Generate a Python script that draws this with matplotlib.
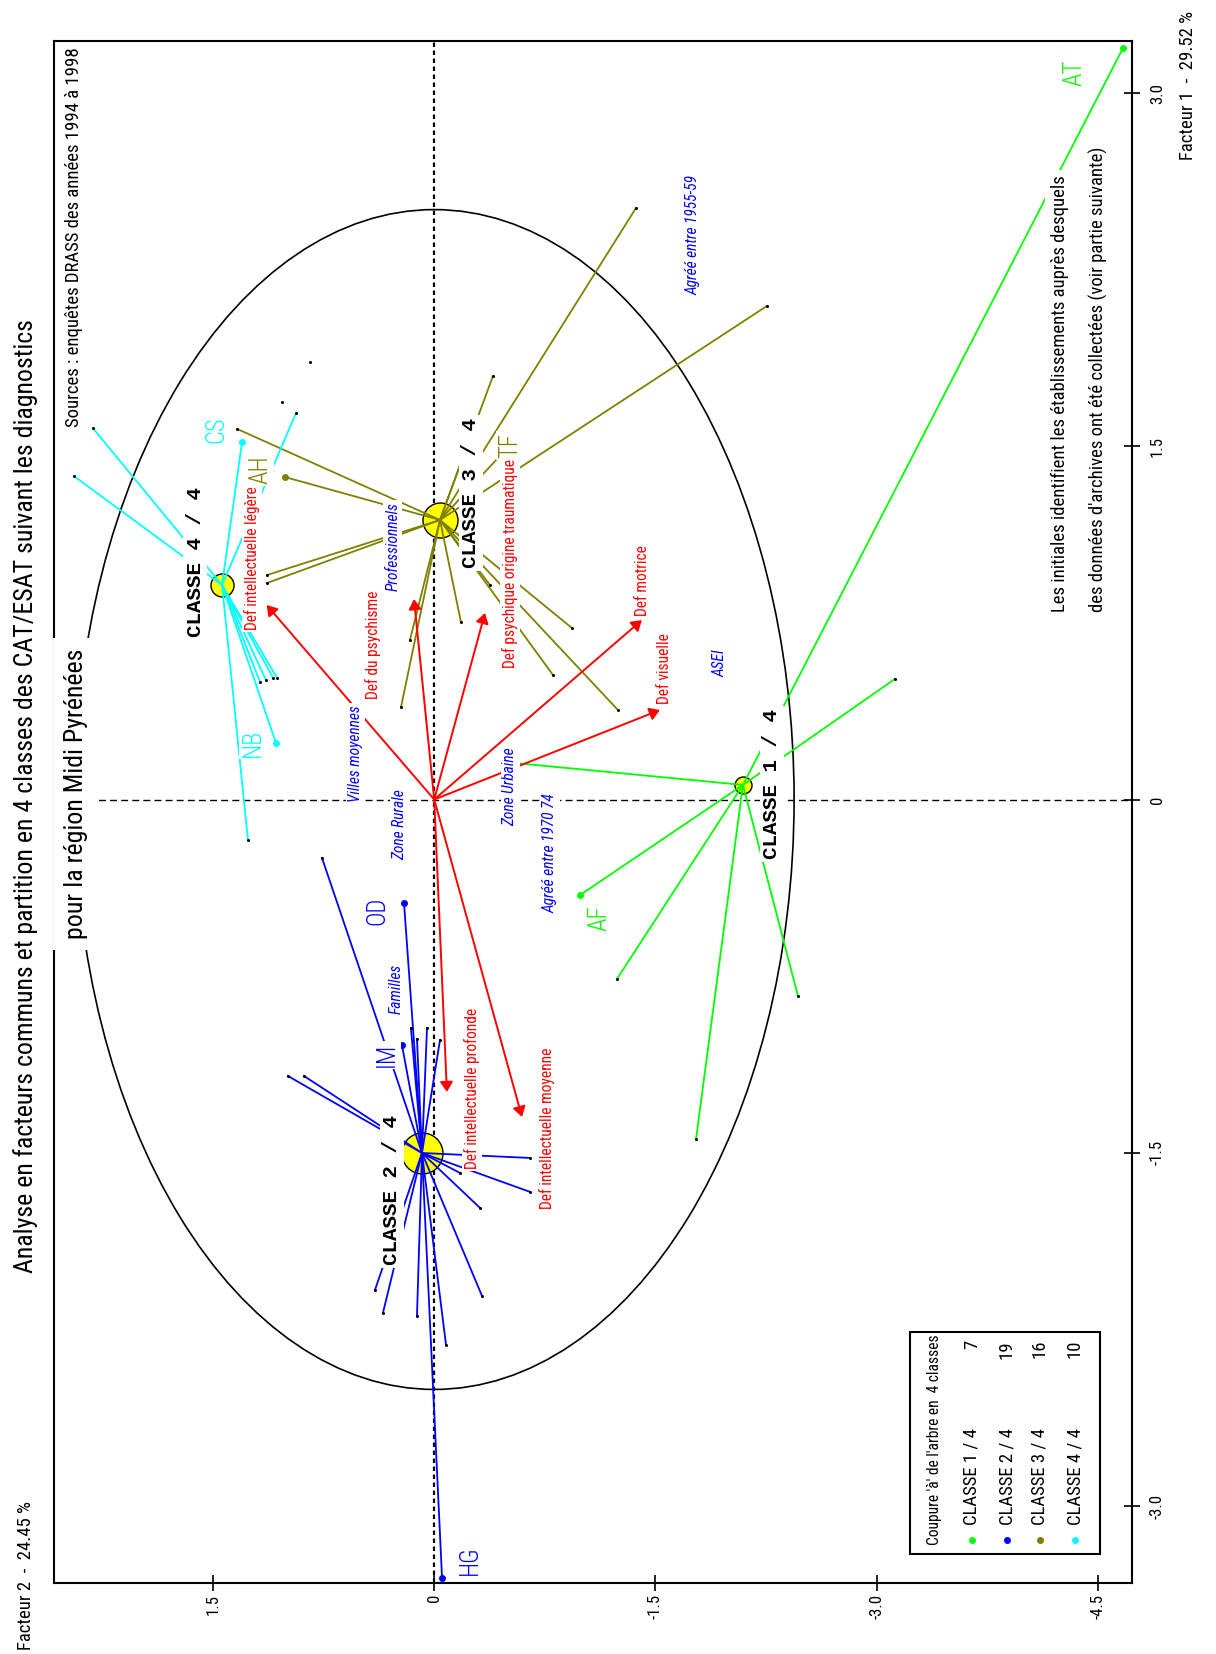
import matplotlib
matplotlib.use("Agg")
import matplotlib.pyplot as plt
from matplotlib import font_manager
from matplotlib.patches import Ellipse, Rectangle
from matplotlib.lines import Line2D

W, H, DPI = 1216, 1654, 100

# -----------------------
# Polices : on cherche une police étroite, sinon DejaVu Sans réduite
# -----------------------
_faces = font_manager.fontManager.ttflist
_noms = {f.name for f in _faces}
SANS, STRETCH, K = "DejaVu Sans", "normal", 0.75
for nom, k in [("Liberation Sans Narrow", 1.0), ("Roboto Condensed", 0.93),
               ("Noto Sans Condensed", 0.9), ("Open Sans Condensed", 0.95),
               ("DejaVu Sans Condensed", 0.82)]:
    if nom in _noms:
        SANS, K = nom, k
        break
else:
    for nom, k in [("Roboto", 0.93), ("Noto Sans", 0.9), ("DejaVu Sans", 0.82)]:
        if any(f.name == nom and "condensed" in str(f.stretch) for f in _faces):
            SANS, STRETCH, K = nom, "condensed", k
            break
MONO = "Liberation Mono" if "Liberation Mono" in _noms else "DejaVu Sans Mono"
TXT = dict(family=SANS, fontstretch=STRETCH)

# -----------------------
# Classes : centres de gravité (facteur 1, facteur 2)
# -----------------------
classes = ["CLASSE 1 / 4", "CLASSE 2 / 4", "CLASSE 3 / 4", "CLASSE 4 / 4"]
effectifs = [7, 19, 16, 10]
couleurs = ["#00ff00", "#0000ff", "#808000", "#00ffff"]
centre_f1 = [0.062, -1.501, 1.187, 0.911]
centre_f2 = [-2.093, 0.083, -0.039, 1.439]

# -----------------------
# Etablissements de chaque classe
# -----------------------
c1_lab = ["AT", "AF", "", "", "", "", ""]
c1_f1 = [3.191, -0.406, -0.762, -1.442, -0.834, 0.512, 0.159]
c1_f2 = [-4.670, -0.988, -1.239, -1.775, -2.466, -3.124, -0.480]

c2_lab = ["HG", "OD", "", "", "", "", "IM", "", "", "", "", "", "", "", "", "", "", "", ""]
c2_f1 = [-3.306, -0.439, -0.248, -1.174, -1.174, -0.970, -1.042, -1.017, -0.970, -1.021,
         -1.522, -1.666, -1.586, -1.734, -2.108, -2.181, -2.193, -2.316, -2.083]
c2_f2 = [-0.053, 0.205, 0.761, 0.992, 0.883, 0.158, 0.219, 0.117, 0.049, -0.039,
         -0.649, -0.649, -0.175, -0.310, -0.324, 0.348, 0.117, -0.080, 0.402]

c3_lab = ["AH", "TF", "", "", "", "", "", "", "", "", "", "", "", "", "", ""]
c3_f1 = [1.369, 1.504, 1.573, 0.953, 0.919, 2.512, 2.096, 1.798, 0.728, 0.380,
         0.529, 0.754, 0.393, 0.677, 0.911, 1.620]
c3_f2 = [1.010, -0.513, 1.334, 1.135, 1.135, -1.368, -2.256, -0.398, -0.934, -1.246,
         -0.805, -0.181, 0.225, 0.165, -0.378, -0.290]

c4_lab = ["CS", "NB", "", "", "", "", "", "", "", ""]
c4_f1 = [1.518, 0.240, 1.577, 1.373, -0.172, 0.517, 0.517, 0.499, 1.641, 0.507]
c4_f2 = [1.303, 1.073, 2.314, 2.442, 1.263, 1.066, 1.093, 1.181, 0.937, 1.141]

autres_f1 = [1.858, 1.688]
autres_f2 = [0.840, 1.032]

# -----------------------
# Diagnostics (variables actives) et variables supplémentaires
# -----------------------
diag_lab = ["Def intellectuelle légère", "Def du psychisme",
            "Def psychique origine traumatique", "Def motrice", "Def visuelle",
            "Def intellectuelle profonde", "Def intellectuelle moyenne"]
diag_f1 = [0.826, 0.851, 0.792, 0.762, 0.380, -1.242, -1.348]
diag_f2 = [1.136, 0.137, -0.344, -1.408, -1.530, -0.086, -0.595]

supp_lab = ["Villes moyennes", "Zone Rurale", "Zone Urbaine", "Agréé entre 1970 74",
            "Professionnels", "Familles", "Agréé entre 1955-59", "ASEI"]
supp_f1 = [0.197, -0.105, 0.053, -0.227, 1.076, -0.805, 2.397, 0.577]
supp_f2 = [0.537, 0.232, -0.514, -0.785, 0.280, 0.259, -1.754, -1.937]

# décalages des étiquettes (points)
classe_off = [(20.9, 0.7), (-21.6, -26.6), (22.3, 19.4), (-19.4, 16.6)]
init_off = {"AT": (-34.6, -18), "AF": (14.4, -16.6), "CS": (-18.7, 8.6),
            "NB": (-16.6, 0), "AH": (-18, 5), "TF": (0, 0), "OD": (-19.4, -5.8),
            "IM": (-10.8, -7.2), "HG": (20.2, 13)}
diag_off = [(-10.8, 33.8), (-29.5, -33.1), (18, 35.3), (0.7, 28.8), (3.6, 30.2),
            (18, 2.9), (18, -7.9)]

WHITE = dict(facecolor="white", edgecolor="none", pad=1.5)


def fpos(x, y):
    return x / W, 1 - y / H


fig = plt.figure(figsize=(W / DPI, H / DPI), dpi=DPI)
ax = fig.add_axes([54 / W, 1 - 1583 / H, (1132 - 54) / W, (1583 - 41) / H])
ax.set_xlim(2.578, -4.731)
ax.set_ylim(-3.327, 3.221)

for s in ax.spines.values():
    s.set_linewidth(1.5)

ax.set_xticks([1.5, 0, -1.5, -3.0, -4.5], ["1.5", "0", "-1.5", "-3.0", "-4.5"],
              rotation=90, fontsize=13 * K, **TXT)
ax.yaxis.tick_right()
ax.set_yticks([3.0, 1.5, 0, -1.5, -3.0], ["3.0", "1.5", "0", "-1.5", "-3.0"],
              rotation=90, va="center", fontsize=13 * K, **TXT)
ax.tick_params(axis="both", direction="inout", length=12, width=1.2)
ax.tick_params(axis="x", pad=2)
ax.tick_params(axis="y", pad=7)

# axes factoriels et cercle
ax.axvline(0, color="black", lw=1.6, ls=(0, (2, 1.6)), zorder=1)
ax.axhline(0, color="black", lw=1.0, ls=(0, (5, 3)), zorder=1)
ax.add_patch(Ellipse((0, 0), 2 * 2.44, 2 * 2.505, fill=False, ec="black", lw=1.2, zorder=1))

# -----------------------
# Classes et établissements
# -----------------------
membres = [(c1_f1, c1_f2, c1_lab), (c2_f1, c2_f2, c2_lab),
           (c3_f1, c3_f2, c3_lab), (c4_f1, c4_f2, c4_lab)]

for k, (f1s, f2s, labs) in enumerate(membres):
    cf1, cf2, col = centre_f1[k], centre_f2[k], couleurs[k]
    r_pt = (effectifs[k] + 1.5) * 72 / DPI
    ax.scatter([cf2], [cf1], s=(2 * r_pt) ** 2, c="yellow", edgecolors="black",
               linewidths=1.0, zorder=1.5)
    for f1, f2, lab in zip(f1s, f2s, labs):
        ax.plot([cf2, f2], [cf1, f1], color=col, lw=1.3, zorder=2)
        if lab:
            ax.plot(f2, f1, "o", color=col, ms=4, zorder=4)
            ax.annotate(lab, (f2, f1), xytext=init_off[lab], textcoords="offset points",
                        rotation=90, ha="center", va="center", color=col,
                        fontsize=19 * K, weight="light", bbox=WHITE, zorder=6, **TXT)
        else:
            ax.plot(f2, f1, "o", color="black", ms=1.2, zorder=4)
    ax.annotate(classes[k], (cf2, cf1), xytext=classe_off[k], textcoords="offset points",
                rotation=90, ha="center", va="center", family=MONO, weight="bold",
                fontsize=15, bbox=dict(facecolor="white", edgecolor="none", pad=2),
                zorder=6)

ax.plot(autres_f2, autres_f1, "o", color="black", ms=1.2, ls="none", zorder=4)

# -----------------------
# Diagnostics : flèches rouges
# -----------------------
for lab, f1, f2, off in zip(diag_lab, diag_f1, diag_f2, diag_off):
    ax.annotate("", xy=(f2, f1), xytext=(0, 0),
                arrowprops=dict(arrowstyle="-|>,head_length=0.55,head_width=0.35",
                                color="red", lw=1.4, mutation_scale=11,
                                shrinkA=0, shrinkB=0), zorder=3)
    ax.annotate(lab, (f2, f1), xytext=off, textcoords="offset points", rotation=90,
                ha="center", va="center", color="red",
                fontsize=12 * K, bbox=WHITE, zorder=6, **TXT)

for lab, f1, f2 in zip(supp_lab, supp_f1, supp_f2):
    ax.text(f2, f1, lab, rotation=90, ha="center", va="center", color="blue",
            style="italic", fontsize=12 * K, bbox=WHITE, zorder=6, **TXT)

# -----------------------
# Textes de la figure
# -----------------------
fig.text(*fpos(26, 796),
         "Analyse en facteurs communs et partition en 4 classes des CAT/ESAT suivant les diagnostics",
         rotation=90, ha="center", va="center", fontsize=20 * K, **TXT)
fig.text(*fpos(76, 794), "pour la région Midi Pyrénées", rotation=90, ha="center",
         va="center", fontsize=20 * K,
         bbox=dict(facecolor="white", edgecolor="none", pad=8), **TXT)
fig.text(*fpos(74, 427), "Sources : enquêtes DRASS des années 1994 à 1998", rotation=90,
         ha="center", va="bottom", fontsize=14.5 * K, **TXT)
fig.text(*fpos(1060, 612), "Les initiales identifient les établissements auprès desquels",
         rotation=90, ha="center", va="bottom", fontsize=14.5 * K,
         bbox=dict(facecolor="white", edgecolor="none", pad=4), **TXT)
fig.text(*fpos(1098, 612), "des données d'archives ont été collectées (voir partie suivante)",
         rotation=90, ha="center", va="bottom", fontsize=14.5 * K,
         bbox=dict(facecolor="white", edgecolor="none", pad=4), **TXT)
fig.text(*fpos(1188, 160), "Facteur 1  -  29.52 %", rotation=90, ha="center", va="bottom",
         fontsize=14.5 * K, **TXT)
fig.text(*fpos(26, 1650), "Facteur 2  -  24.45 %", rotation=90, ha="center", va="bottom",
         fontsize=14.5 * K, **TXT)

# -----------------------
# Légende
# -----------------------
x0, y0 = fpos(910, 1554)
x1, y1 = fpos(1100, 1332)
fig.add_artist(Rectangle((x0, y0), x1 - x0, y1 - y0, transform=fig.transFigure,
                         facecolor="white", edgecolor="black", lw=1.5, zorder=2))
fig.text(*fpos(935, 1545), "Coupure 'à' de l'arbre en  4 classes", rotation=90,
         ha="center", va="bottom", fontsize=12 * K, zorder=3, **TXT)
for k, xr in enumerate([972, 1007, 1040, 1075]):
    dx, dy = fpos(xr, 1540)
    fig.add_artist(Line2D([dx], [dy], marker="o", ms=4, color=couleurs[k],
                          transform=fig.transFigure, zorder=3))
    fig.text(*fpos(xr, 1525), classes[k], rotation=90,
             ha="center", va="bottom", fontsize=14.5 * K, zorder=3, **TXT)
    fig.text(*fpos(xr, 1340), str(effectifs[k]), rotation=90, ha="center", va="top",
             fontsize=14.5 * K, zorder=3, **TXT)

fig.savefig("out.png", dpi=DPI)
